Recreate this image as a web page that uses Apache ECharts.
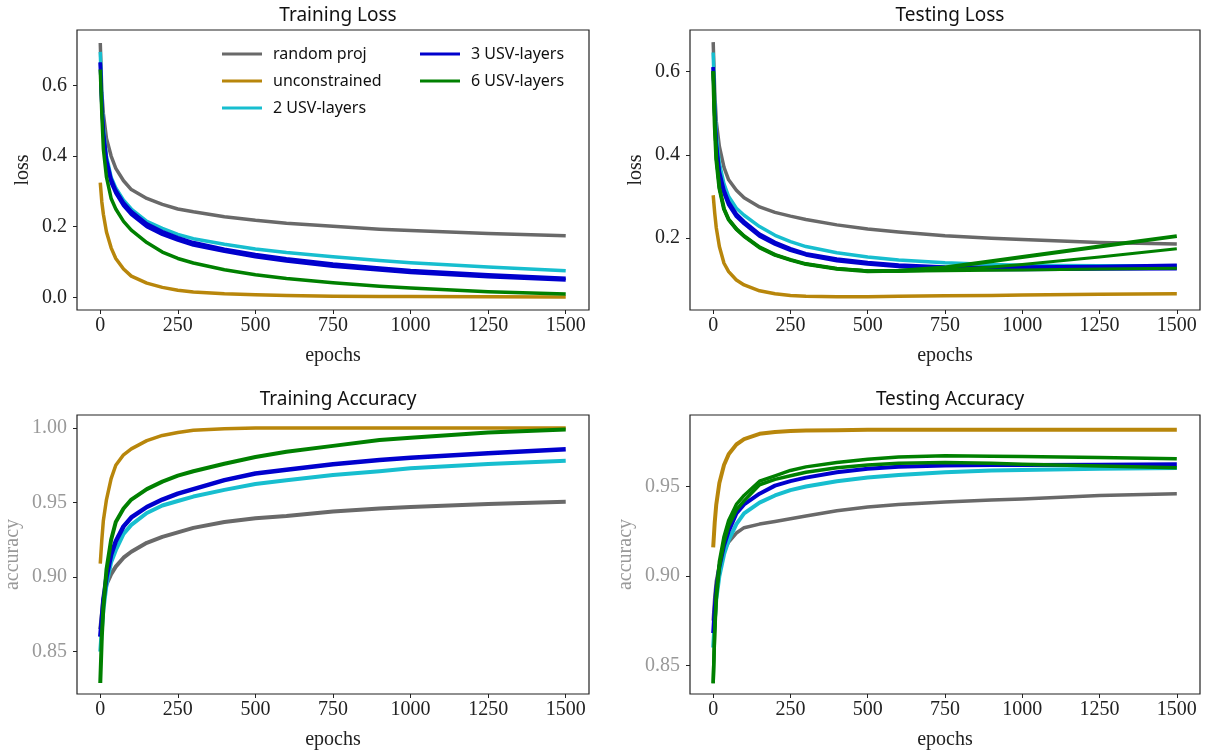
<!DOCTYPE html>
<html>
<head>
<meta charset="utf-8">
<script src="https://cdn.jsdelivr.net/npm/echarts@6/dist/echarts.min.js"></script>
<style>html,body{margin:0;padding:0;background:#fff}#c{width:1206px;height:752px}</style>
</head>
<body>
<div id="c"></div>
<script>
// ---- data ----
const epochs = [0,5,10,20,35,50,75,100,150,200,250,300,400,500,600,750,900,1000,1250,1500];
const xTicks = [0,250,500,750,1000,1250,1500];
const lossTicks = [0,0.2,0.4,0.6];
const testLossTicks = [0.2,0.4,0.6];
const trainAccTicks = [0.85,0.90,0.95,1.00];
const testAccTicks = [0.85,0.90,0.95];
const seriesNames = ['random proj','unconstrained','2 USV-layers','3 USV-layers','6 USV-layers'];

// Training loss
const trLossRandom = [0.72,0.58,0.52,0.45,0.40,0.365,0.33,0.305,0.28,0.263,0.25,0.242,0.228,0.218,0.21,0.201,0.193,0.189,0.181,0.174];
const trLossUncon  = [0.325,0.27,0.235,0.185,0.14,0.11,0.08,0.06,0.04,0.028,0.02,0.015,0.01,0.007,0.005,0.003,0.0025,0.002,0.0015,0.001];
const trLossUsv2   = [0.695,0.56,0.48,0.40,0.34,0.31,0.275,0.25,0.215,0.195,0.178,0.166,0.15,0.137,0.127,0.115,0.104,0.098,0.086,0.075];
const trLossUsv3a  = [0.665,0.54,0.46,0.38,0.325,0.295,0.26,0.235,0.2,0.178,0.162,0.148,0.13,0.115,0.103,0.088,0.077,0.07,0.058,0.049];
const trLossUsv3b  = [0.665,0.545,0.47,0.39,0.335,0.303,0.268,0.243,0.208,0.186,0.169,0.155,0.136,0.121,0.109,0.094,0.083,0.076,0.064,0.054];
const trLossUsv6   = [0.645,0.52,0.42,0.34,0.28,0.25,0.215,0.19,0.155,0.128,0.11,0.097,0.078,0.064,0.053,0.041,0.031,0.026,0.016,0.009];

// Testing loss
const teLossRandom = [0.67,0.55,0.48,0.42,0.37,0.34,0.315,0.297,0.275,0.262,0.253,0.245,0.232,0.222,0.215,0.206,0.2,0.197,0.19,0.186];
const teLossUncon  = [0.303,0.26,0.225,0.18,0.14,0.12,0.1,0.088,0.074,0.067,0.063,0.061,0.0595,0.06,0.061,0.062,0.063,0.064,0.066,0.067];
const teLossUsv2   = [0.645,0.52,0.45,0.38,0.33,0.30,0.272,0.255,0.228,0.207,0.192,0.18,0.165,0.155,0.148,0.141,0.137,0.135,0.134,0.134];
const teLossUsv3a  = [0.61,0.5,0.43,0.36,0.315,0.287,0.258,0.24,0.21,0.19,0.175,0.163,0.15,0.142,0.136,0.131,0.13,0.131,0.132,0.135];
const teLossUsv3b  = [0.61,0.49,0.42,0.35,0.308,0.28,0.252,0.235,0.205,0.186,0.171,0.16,0.146,0.138,0.132,0.127,0.125,0.125,0.126,0.127];
const teLossUsv6a  = [0.60,0.47,0.39,0.32,0.27,0.245,0.222,0.205,0.178,0.16,0.148,0.138,0.127,0.121,0.122,0.13,0.145,0.155,0.18,0.205];
const teLossUsv6b  = [0.60,0.47,0.39,0.32,0.27,0.245,0.222,0.205,0.178,0.16,0.148,0.138,0.127,0.122,0.121,0.124,0.131,0.137,0.155,0.175];
const teLossUsv6c  = [0.60,0.47,0.39,0.32,0.27,0.245,0.222,0.205,0.178,0.16,0.148,0.138,0.127,0.122,0.121,0.122,0.123,0.124,0.126,0.128];

// Training accuracy
const trAccRandom = [0.865,0.875,0.885,0.895,0.902,0.907,0.913,0.917,0.923,0.927,0.930,0.933,0.937,0.9395,0.941,0.944,0.946,0.947,0.949,0.9505];
const trAccUncon  = [0.909,0.925,0.938,0.952,0.966,0.975,0.982,0.986,0.9915,0.995,0.997,0.9985,0.9995,1.0,1.0,1.0,1.0,1.0,1.0,1.0];
const trAccUsv2   = [0.85,0.865,0.878,0.895,0.91,0.918,0.929,0.935,0.943,0.948,0.951,0.954,0.9585,0.9624,0.965,0.9684,0.971,0.973,0.9758,0.978];
const trAccUsv3   = [0.86,0.872,0.885,0.9,0.915,0.924,0.934,0.94,0.947,0.952,0.956,0.959,0.965,0.9695,0.972,0.9757,0.9785,0.98,0.983,0.9858];
const trAccUsv6   = [0.829,0.86,0.88,0.905,0.925,0.937,0.946,0.952,0.959,0.964,0.968,0.971,0.976,0.9805,0.984,0.988,0.992,0.9935,0.997,0.999];

// Testing accuracy
const teAccRandom = [0.875,0.888,0.897,0.906,0.914,0.919,0.924,0.927,0.929,0.9305,0.932,0.9335,0.9365,0.9385,0.94,0.9413,0.9425,0.9431,0.945,0.9459];
const teAccUncon  = [0.916,0.93,0.94,0.952,0.962,0.968,0.9735,0.9765,0.9795,0.9805,0.981,0.9813,0.9815,0.9817,0.9817,0.9817,0.9817,0.9817,0.9817,0.9817];
const teAccUsv2   = [0.86,0.875,0.887,0.9,0.912,0.92,0.929,0.935,0.941,0.945,0.948,0.95,0.953,0.955,0.9565,0.958,0.959,0.9593,0.96,0.9604];
const teAccUsv3   = [0.868,0.882,0.893,0.905,0.917,0.925,0.935,0.94,0.946,0.9505,0.953,0.955,0.958,0.96,0.961,0.9617,0.962,0.962,0.9622,0.9625];
const teAccUsv6a  = [0.84,0.87,0.89,0.908,0.922,0.931,0.94,0.945,0.953,0.956,0.959,0.961,0.9635,0.9652,0.9665,0.9672,0.967,0.9668,0.9662,0.9655];
const teAccUsv6b  = [0.84,0.868,0.887,0.905,0.919,0.928,0.937,0.942,0.951,0.954,0.956,0.958,0.9605,0.962,0.963,0.9635,0.963,0.9625,0.9615,0.9605];

// ---- styling ----
const colors = {
  'random proj':'#696969',
  'unconstrained':'#b8860b',
  '2 USV-layers':'#17becf',
  '3 USV-layers':'#0000cd',
  '6 USV-layers':'#008000'
};
const SERIF = '"Liberation Serif", "DejaVu Serif", serif';
const SANS = '"Noto Sans", "DejaVu Sans", sans-serif';

const grids = [
  {left:77, top:30, width:512, height:280},
  {left:690, top:30, width:510, height:280},
  {left:77, top:415, width:512, height:279},
  {left:690, top:415, width:510, height:279}
].map(g => Object.assign(g, {show:true, borderColor:'#222', borderWidth:1.2, backgroundColor:'transparent'}));

const titles = ['Training Loss','Testing Loss','Training Accuracy','Testing Accuracy'].map((t,i) => ({
  text:t, left: grids[i].left + grids[i].width/2, top: i<2 ? 1 : 385, textAlign:'center',
  textStyle:{fontFamily:SANS, fontSize:19, fontWeight:'normal', color:'#111'}
}));

const xAxes = [0,1,2,3].map(i => ({
  type:'value', gridIndex:i, min:-75, max:1575, position:'bottom',
  axisLine:{show:false, onZero:false}, splitLine:{show:false},
  axisTick:{show:true, length:4, customValues:xTicks, lineStyle:{color:'#222', width:1}},
  axisLabel:{customValues:xTicks, fontFamily:SERIF, fontSize:20, color:'#222', margin:6,
    formatter: v => String(v)},
  name:'epochs', nameLocation:'middle', nameGap:36,
  nameTextStyle:{fontFamily:SERIF, fontSize:20, color:'#222'}
}));

function yAxis(i, min, max, ticks, digits, name, labelColor, gap) {
  return {
    type:'value', gridIndex:i, min:min, max:max, position:'left',
    axisLine:{show:false, onZero:false}, splitLine:{show:false},
    axisTick:{show:true, length:4, customValues:ticks, lineStyle:{color:'#222', width:1}},
    axisLabel:{customValues:ticks, fontFamily:SERIF, fontSize:20, color:labelColor, margin:10,
      formatter: v => Number(v).toFixed(digits)},
    name:name, nameLocation:'middle', nameGap:gap, nameRotate:90,
    nameTextStyle:{fontFamily:SERIF, fontSize:20, color:labelColor}
  };
}
const yAxes = [
  yAxis(0, -0.036, 0.757, lossTicks, 1, 'loss', '#222', 44),
  yAxis(1, 0.028, 0.699, testLossTicks, 1, 'loss', '#222', 44),
  yAxis(2, 0.8216, 1.0087, trainAccTicks, 2, 'accuracy', '#999', 54),
  yAxis(3, 0.834, 0.990, testAccTicks, 2, 'accuracy', '#999', 54)
];

const series = [];
function add(gi, name, vals, width) {
  series.push({
    type:'line', name:name, xAxisIndex:gi, yAxisIndex:gi,
    data: epochs.map((e,k) => [e, vals[k]]),
    showSymbol:false, symbol:'none', smooth:false,
    lineStyle:{color:colors[name], width:width||3.5, cap:'butt', join:'round'},
    itemStyle:{color:colors[name]},
    silent:true
  });
}
// Training loss
add(0,'random proj',trLossRandom);
add(0,'unconstrained',trLossUncon);
add(0,'2 USV-layers',trLossUsv2);
add(0,'3 USV-layers',trLossUsv3a);
add(0,'3 USV-layers',trLossUsv3b);
add(0,'6 USV-layers',trLossUsv6);
// Testing loss
add(1,'random proj',teLossRandom);
add(1,'unconstrained',teLossUncon);
add(1,'2 USV-layers',teLossUsv2);
add(1,'3 USV-layers',teLossUsv3a);
add(1,'3 USV-layers',teLossUsv3b);
add(1,'6 USV-layers',teLossUsv6a,4);
add(1,'6 USV-layers',teLossUsv6b,3);
add(1,'6 USV-layers',teLossUsv6c,3);
// Training accuracy
add(2,'random proj',trAccRandom,4);
add(2,'unconstrained',trAccUncon);
add(2,'2 USV-layers',trAccUsv2,4);
add(2,'3 USV-layers',trAccUsv3,4.5);
add(2,'6 USV-layers',trAccUsv6,4);
// Testing accuracy
add(3,'random proj',teAccRandom);
add(3,'unconstrained',teAccUncon,4);
add(3,'2 USV-layers',teAccUsv2,4);
add(3,'3 USV-layers',teAccUsv3,4);
add(3,'6 USV-layers',teAccUsv6a,3.5);
add(3,'6 USV-layers',teAccUsv6b,3.5);

const legendBase = {
  orient:'vertical', itemWidth:40, itemHeight:3, itemGap:7, icon:'rect',
  textStyle:{fontFamily:SANS, fontSize:16, color:'#111', lineHeight:20, padding:[0,0,0,6]},
  selectedMode:false, padding:0
};
const legends = [
  Object.assign({}, legendBase, {left:222, top:44, data:seriesNames.slice(0,3)}),
  Object.assign({}, legendBase, {left:420, top:44, data:seriesNames.slice(3)})
];

const chart = echarts.init(document.getElementById('c'), null, {renderer:'canvas'});
chart.setOption({
  animation:false,
  backgroundColor:'#fff',
  title:titles,
  legend:legends,
  grid:grids,
  xAxis:xAxes,
  yAxis:yAxes,
  series:series
});
</script>
</body>
</html>
